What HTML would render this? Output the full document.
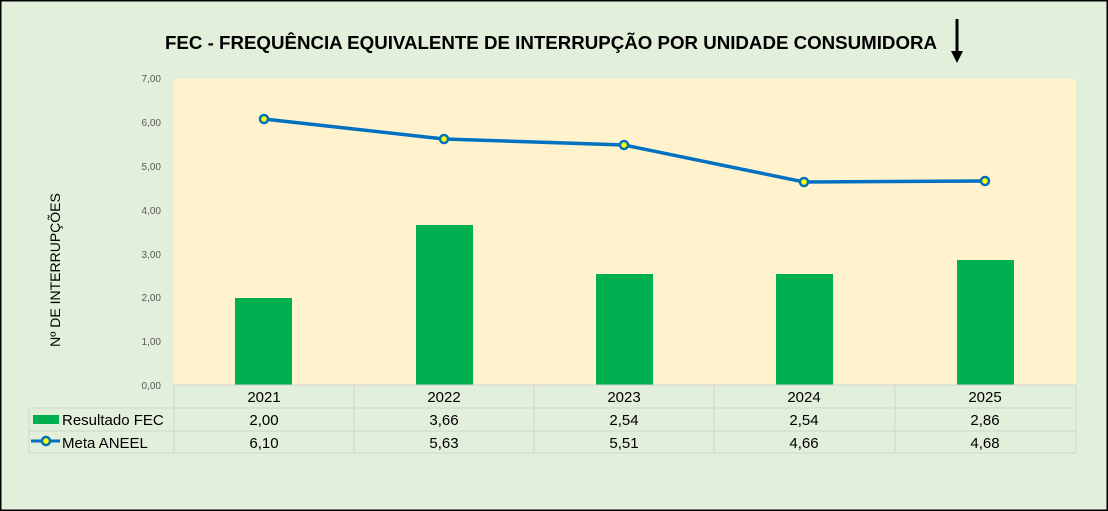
<!DOCTYPE html><html><head><meta charset="utf-8"><style>body{margin:0}svg{display:block}</style></head><body>
<svg width="1108" height="511" xmlns="http://www.w3.org/2000/svg" font-family="Liberation Sans, Arial, sans-serif">
<rect x="0.5" y="0.5" width="1107" height="510" fill="#e2efda" stroke="#000" stroke-width="2"/>
<text x="165" y="49" textLength="772" lengthAdjust="spacingAndGlyphs" font-size="18" font-weight="bold">FEC - FREQUÊNCIA EQUIVALENTE DE INTERRUPÇÃO POR UNIDADE CONSUMIDORA</text>
<line x1="957" y1="19" x2="957" y2="52" stroke="#000" stroke-width="3"/>
<polygon points="951,51 963,51 957,63" fill="#000"/>
<rect x="174" y="79" width="902" height="306" fill="#fff2cc"/>
<g font-size="10" fill="#595959" text-anchor="end">
<text x="161" y="389">0,00</text><text x="161" y="345">1,00</text><text x="161" y="301">2,00</text><text x="161" y="258">3,00</text><text x="161" y="214">4,00</text><text x="161" y="170">5,00</text><text x="161" y="126">6,00</text><text x="161" y="82">7,00</text>
</g>
<text transform="translate(60,270) rotate(-90)" text-anchor="middle" font-size="14">Nº DE INTERRUPÇÕES</text>
<g fill="#00b050">
<rect x="235" y="298" width="57" height="87"/>
<rect x="416" y="225" width="57" height="160"/>
<rect x="596" y="274" width="57" height="111"/>
<rect x="776" y="274" width="57" height="111"/>
<rect x="957" y="260" width="57" height="125"/>
</g>
<polyline points="264,119 444,139 624,145 804,182 985,181" fill="none" stroke="#0070c0" stroke-width="3.5"/>
<g fill="#ffff00" stroke="#0070c0" stroke-width="2.5">
<circle cx="264" cy="119" r="4"/><circle cx="444" cy="139" r="4"/><circle cx="624" cy="145" r="4"/><circle cx="804" cy="182" r="4"/><circle cx="985" cy="181" r="4"/>
</g>
<g stroke="#d0d7c8" stroke-width="1" fill="none">
<line x1="174" y1="385" x2="1076" y2="385"/>
<line x1="29" y1="408" x2="1076" y2="408"/>
<line x1="29" y1="431" x2="1076" y2="431"/>
<line x1="29" y1="453" x2="1076" y2="453"/>
<line x1="29" y1="408" x2="29" y2="453"/>
<line x1="174" y1="385" x2="174" y2="453"/><line x1="354" y1="385" x2="354" y2="453"/><line x1="534" y1="385" x2="534" y2="453"/><line x1="714" y1="385" x2="714" y2="453"/><line x1="895" y1="385" x2="895" y2="453"/><line x1="1076" y1="385" x2="1076" y2="453"/>
</g>
<g font-size="15" text-anchor="middle" fill="#000">
<text x="264" y="402">2021</text><text x="444" y="402">2022</text><text x="624" y="402">2023</text><text x="804" y="402">2024</text><text x="985" y="402">2025</text>
<text x="264" y="425">2,00</text><text x="444" y="425">3,66</text><text x="624" y="425">2,54</text><text x="804" y="425">2,54</text><text x="985" y="425">2,86</text>
<text x="264" y="448">6,10</text><text x="444" y="448">5,63</text><text x="624" y="448">5,51</text><text x="804" y="448">4,66</text><text x="985" y="448">4,68</text>
</g>
<rect x="33" y="415" width="26" height="9" fill="#00b050"/>
<text x="62" y="425" font-size="15">Resultado FEC</text>
<line x1="31" y1="441" x2="60" y2="441" stroke="#0070c0" stroke-width="3"/>
<circle cx="46" cy="441" r="4" fill="#ffff00" stroke="#0070c0" stroke-width="2.5"/>
<text x="62" y="448" font-size="15">Meta ANEEL</text>
</svg>
</body></html>
